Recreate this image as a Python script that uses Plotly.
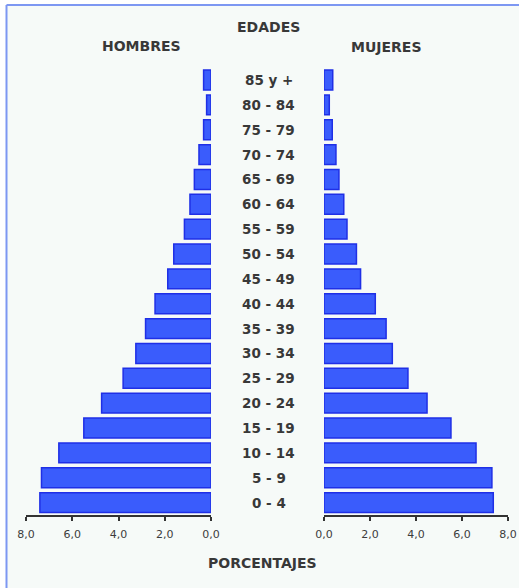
import plotly.graph_objects as go

# Age groups, youngest first (bottom of the pyramid)
edades = ["0 - 4", "5 - 9", "10 - 14", "15 - 19", "20 - 24", "25 - 29",
          "30 - 34", "35 - 39", "40 - 44", "45 - 49", "50 - 54", "55 - 59",
          "60 - 64", "65 - 69", "70 - 74", "75 - 79", "80 - 84", "85 y +"]

# Share of population (%) per age group
hombres = [7.40, 7.33, 6.58, 5.50, 4.73, 3.80, 3.25, 2.83, 2.42, 1.87,
           1.61, 1.15, 0.91, 0.72, 0.52, 0.32, 0.19, 0.32]
mujeres = [7.36, 7.30, 6.61, 5.52, 4.48, 3.65, 2.97, 2.70, 2.23, 1.59,
           1.41, 1.00, 0.86, 0.65, 0.52, 0.36, 0.23, 0.38]

ticks = [0, 2, 4, 6, 8]

W, H = 519, 588
BAR_FILL = "#3a5cfc"
BAR_EDGE = "#1f2fe6"
TXT = "#383838"
BG = "#f6faf8"
FRAME = "#7d97f2"
FONT = "DejaVu Sans, Verdana, sans-serif"


def px(x):
    return x / W


def py(y):
    return 1 - y / H


fig = go.Figure()
fig.add_trace(go.Bar(
    y=edades, x=hombres, orientation="h", xaxis="x", yaxis="y",
    marker=dict(color=BAR_FILL, line=dict(color=BAR_EDGE, width=1.5)),
    name="HOMBRES", showlegend=False, hoverinfo="x+y"))
fig.add_trace(go.Bar(
    y=edades, x=mujeres, orientation="h", xaxis="x2", yaxis="y",
    marker=dict(color=BAR_FILL, line=dict(color=BAR_EDGE, width=1.5)),
    name="MUJERES", showlegend=False, hoverinfo="x+y"))

axis_common = dict(
    tickvals=ticks, tickformat=".1f", showgrid=False, zeroline=False,
    showline=True, linecolor="#333333", linewidth=1.5,
    ticks="outside", ticklen=4, tickcolor="#333333", tickwidth=1.5,
    tickfont=dict(family=FONT, size=11, color="#3c3c3c"),
    ticklabelstandoff=4, fixedrange=True, automargin=False,
)

fig.update_layout(
    width=W, height=H, autosize=False,
    margin=dict(l=0, r=0, t=0, b=0, pad=0),
    paper_bgcolor="white", plot_bgcolor="rgba(0,0,0,0)",
    separators=",.",
    bargap=0.2,
    xaxis=dict(domain=[px(26), px(211)], range=[8, 0], anchor="y", **axis_common),
    xaxis2=dict(domain=[px(324), px(508)], range=[0, 8], anchor="y", **axis_common),
    yaxis=dict(domain=[py(515), py(67.6)], range=[-0.5, 17.5], type="category",
               categoryorder="array", categoryarray=edades,
               showticklabels=False, showgrid=False, zeroline=False,
               showline=False, ticks="", fixedrange=True, automargin=False),
    font=dict(family=FONT, color=TXT),
)

# Panel background, framed in light blue along its top and left edges
fig.add_shape(type="rect", xref="paper", yref="paper",
              x0=px(6.5), y0=0, x1=1, y1=py(5),
              fillcolor=BG, line=dict(width=0), layer="below")
fig.add_shape(type="line", xref="paper", yref="paper",
              x0=px(6.5), y0=py(5), x1=1, y1=py(5),
              line=dict(color=FRAME, width=2), layer="below")
fig.add_shape(type="line", xref="paper", yref="paper",
              x0=px(6.5), y0=py(5), x1=px(6.5), y1=0,
              line=dict(color=FRAME, width=2), layer="below")

title_font = dict(family=FONT, size=14, color=TXT)
for text, x, y in [("EDADES", 269, 27), ("HOMBRES", 141, 46),
                   ("MUJERES", 386, 47), ("PORCENTAJES", 262, 563)]:
    fig.add_annotation(text=f"<b>{text}</b>", xref="paper", yref="paper",
                       x=px(x), y=py(y), showarrow=False, font=title_font,
                       xanchor="center", yanchor="middle")

# Age-group labels in the central column
for e in edades:
    fig.add_annotation(text=f"<b>{e}</b>", xref="paper", yref="y",
                       x=px(269), y=e, showarrow=False,
                       font=dict(family=FONT, size=13.5, color=TXT),
                       xanchor="center", yanchor="middle")

fig.write_html("out.html")
